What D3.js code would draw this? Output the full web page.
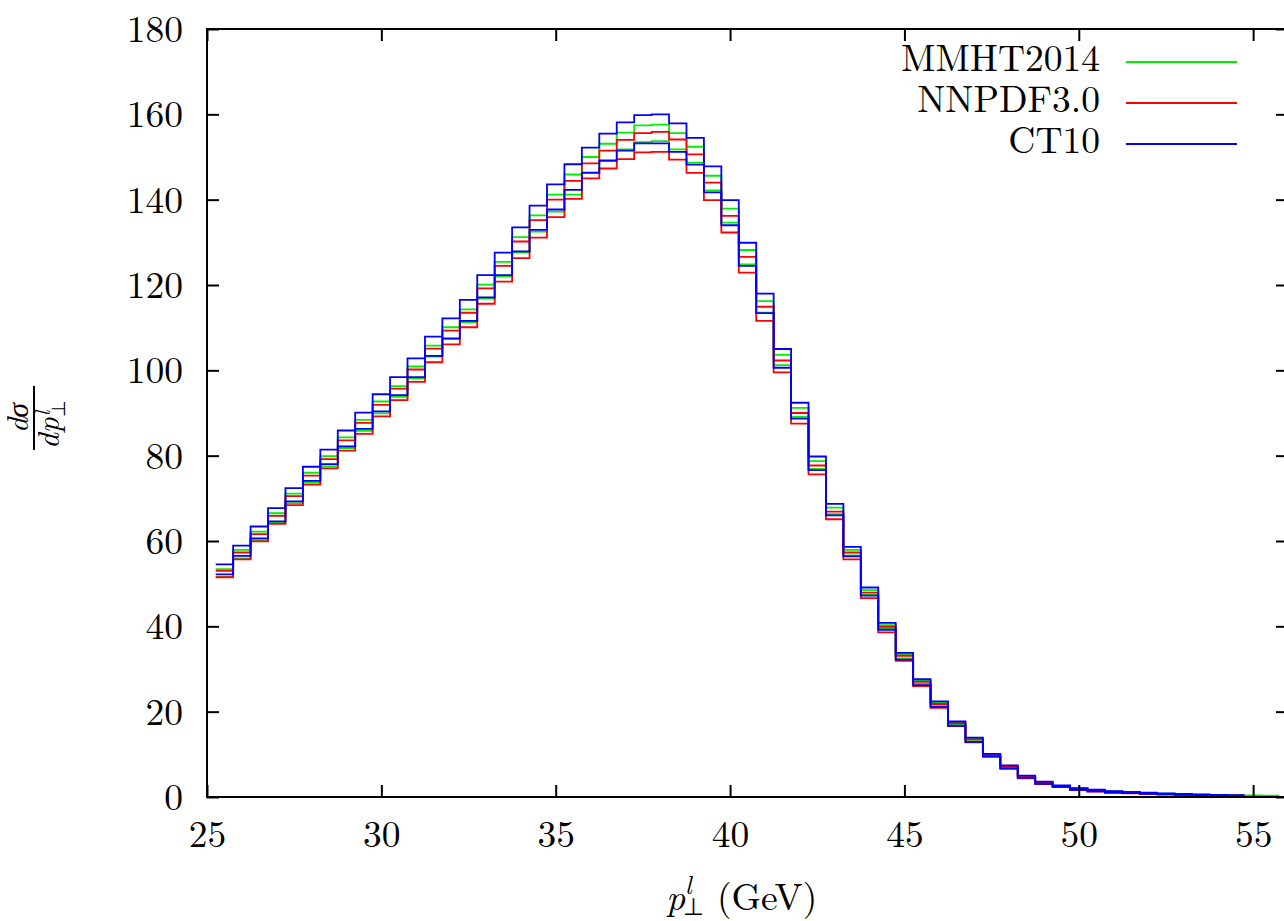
<!DOCTYPE html>
<html>
<head>
<meta charset="utf-8">
<script src="https://cdn.jsdelivr.net/npm/d3@7"></script>
<style>
  body { margin: 0; background: #fff; }
</style>
</head>
<body>
<div id="chart"></div>
<script>
// bin centres (GeV), bins are 0.5 GeV wide
const binCenters = [25.5, 26.0, 26.5, 27.0, 27.5, 28.0, 28.5, 29.0, 29.5, 30.0,
    30.5, 31.0, 31.5, 32.0, 32.5, 33.0, 33.5, 34.0, 34.5, 35.0,
    35.5, 36.0, 36.5, 37.0, 37.5, 38.0, 38.5, 39.0, 39.5, 40.0,
    40.5, 41.0, 41.5, 42.0, 42.5, 43.0, 43.5, 44.0, 44.5, 45.0,
    45.5, 46.0, 46.5, 47.0, 47.5, 48.0, 48.5, 49.0, 49.5, 50.0,
    50.5, 51.0, 51.5, 52.0, 52.5, 53.0, 53.5, 54.0, 54.5, 55.0, 55.5];

const mmhtUp = [53.4, 57.9, 62.2, 66.5, 71.1, 76.0, 79.9, 84.3, 88.4, 92.7,
    96.3, 100.9, 105.8, 110.1, 114.3, 120.1, 125.4, 131.2, 136.3, 141.2,
    145.9, 150.0, 153.1, 155.7, 157.4, 157.6, 155.6, 152.4, 145.6, 137.9,
    128.2, 116.2, 103.6, 91.2, 78.7, 67.8, 57.9, 48.5, 40.3, 33.4,
    27.3, 22.1, 17.5, 13.7, 9.95, 7.25, 4.9, 3.5, 2.6, 2.0,
    1.6, 1.3, 1.1, 0.92, 0.78, 0.65, 0.55, 0.46, 0.4, 0.35, 0.3];
const mmhtDown = [51.6, 55.9, 60.2, 64.3, 68.9, 73.7, 77.5, 81.8, 85.8, 89.9,
    93.8, 98.1, 103.2, 107.3, 111.3, 116.8, 122.0, 127.6, 132.5, 137.2,
    141.2, 146.4, 149.3, 151.8, 153.5, 153.7, 151.8, 148.7, 142.2, 134.6,
    124.8, 113.5, 101.2, 89.1, 76.9, 66.3, 56.6, 47.4, 39.5, 32.5,
    26.5, 21.3, 16.9, 13.1, 9.6, 6.85, 4.6, 3.2, 2.45, 1.8,
    1.4, 1.1, 0.92, 0.75, 0.64, 0.52, 0.44, 0.36, 0.29, 0.24, 0.2];

const nnpdfUp = [53.0, 57.3, 61.6, 65.9, 70.5, 75.3, 79.2, 83.6, 87.7, 91.9,
    95.7, 100.2, 105.1, 109.3, 113.5, 119.2, 124.5, 130.2, 135.2, 140.0,
    144.4, 148.5, 151.5, 154.0, 155.6, 155.9, 154.1, 150.6, 144.0, 136.2,
    126.6, 114.9, 102.3, 90.0, 77.7, 66.9, 57.3, 47.9, 39.9, 33.1,
    27.0, 21.8, 17.3, 13.5, 9.8, 7.1, 4.8, 3.4, 2.55, 1.95,
    1.55, 1.25, 1.05, 0.88, 0.74, 0.62, 0.52, 0.43, 0.37];
const nnpdfDown = [51.5, 55.7, 59.9, 64.0, 68.4, 73.2, 77.0, 81.2, 85.1, 89.2,
    93.0, 97.3, 101.9, 106.1, 110.1, 115.6, 120.8, 126.3, 131.1, 135.9,
    140.2, 145.0, 147.3, 149.5, 151.1, 151.2, 149.4, 146.3, 139.9, 132.3,
    122.9, 111.6, 99.5, 87.5, 75.6, 65.1, 55.7, 46.6, 38.6, 31.9,
    26.0, 20.9, 16.6, 12.8, 9.4, 6.6, 4.4, 3.0, 2.3, 1.6,
    1.25, 1.0, 0.85, 0.7, 0.6, 0.48, 0.4, 0.3, 0.23];

const ct10Up = [54.5, 58.9, 63.4, 67.7, 72.4, 77.4, 81.4, 85.9, 90.1, 94.4,
    98.4, 102.8, 107.9, 112.2, 116.5, 122.3, 127.6, 133.5, 138.6, 143.6,
    148.3, 152.2, 155.5, 158.1, 159.8, 160.0, 157.9, 154.5, 147.8, 139.9,
    129.9, 118.0, 105.0, 92.4, 79.8, 68.7, 58.6, 49.1, 40.8, 33.8,
    27.6, 22.4, 17.7, 13.9, 10.1, 7.4, 5.0, 3.6, 2.7, 2.1,
    1.7, 1.4, 1.2, 1.0, 0.85, 0.7, 0.6, 0.5, 0.45];
const ct10Down = [52.2, 56.5, 60.6, 64.6, 69.3, 74.1, 78.0, 82.2, 86.3, 90.4,
    94.2, 98.4, 103.4, 107.5, 111.6, 117.1, 122.3, 127.9, 132.9, 137.7,
    142.3, 146.3, 149.1, 151.5, 153.2, 153.2, 151.2, 148.2, 141.7, 134.0,
    124.5, 113.4, 100.6, 88.7, 76.6, 66.0, 56.4, 47.2, 39.2, 32.2,
    26.2, 21.1, 16.7, 12.9, 9.5, 6.7, 4.5, 3.1, 2.4, 1.7,
    1.3, 1.05, 0.9, 0.72, 0.62, 0.5, 0.42, 0.33, 0.26];

const seriesNames = ["MMHT2014", "NNPDF3.0", "CT10"];
const seriesColors = ["#00ee00", "#ff0000", "#0000ff"];
const xTicks = [25, 30, 35, 40, 45, 50, 55];
const yTicks = [0, 20, 40, 60, 80, 100, 120, 140, 160, 180];

const serif = "\"Latin Modern Roman\"";

const margin = { top: 29, right: -4, bottom: 124, left: 207 },
      width = 1284 - margin.left - margin.right,
      height = 921 - margin.top - margin.bottom;

const svg = d3.select("#chart")
    .append("svg")
    .attr("width", 1284)
    .attr("height", 921);

const g = svg.append("g")
    .attr("transform", `translate(${margin.left},${margin.top})`);

const x = d3.scaleLinear().domain([25, 56]).range([0, width]);
const y = d3.scaleLinear().domain([0, 180]).range([height, 0]);

g.append("clipPath").attr("id", "plotClip")
    .append("rect").attr("width", width).attr("height", height);

// histogram steps
const halfBin = (binCenters[1] - binCenters[0]) / 2;
const stepLine = d3.line().x(d => x(d[0])).y(d => y(d[1]));
function stepPoints(values) {
    return values.flatMap((v, i) => [[binCenters[i] - halfBin, v], [binCenters[i] + halfBin, v]]);
}

const bands = [[mmhtUp, mmhtDown], [nnpdfUp, nnpdfDown], [ct10Up, ct10Down]];
const plot = g.append("g").attr("clip-path", "url(#plotClip)");
bands.forEach((pair, k) => {
    pair.forEach(vals => {
        plot.append("path")
            .datum(stepPoints(vals))
            .attr("d", stepLine)
            .style("fill", "none")
            .style("stroke", seriesColors[k])
            .style("stroke-width", 1.8);
    });
});

// axes with inward ticks on all four sides
const tickLen = 12;
const fs = 37.5;
const xAxis = g.append("g").attr("transform", `translate(0,${height})`)
    .call(d3.axisBottom(x).tickValues(xTicks).tickSizeInner(-tickLen).tickSizeOuter(0).tickFormat(d3.format("d")));
const xTop = g.append("g")
    .call(d3.axisTop(x).tickValues(xTicks).tickSizeInner(-tickLen).tickSizeOuter(0).tickFormat(""));
const yAxis = g.append("g")
    .call(d3.axisLeft(y).tickValues(yTicks).tickSizeInner(-tickLen).tickSizeOuter(0));
const yRight = g.append("g").attr("transform", `translate(${width},0)`)
    .call(d3.axisRight(y).tickValues(yTicks).tickSizeInner(-tickLen).tickSizeOuter(0).tickFormat(""));

[xAxis, xTop, yAxis, yRight].forEach(a => {
    a.attr("font-family", null).attr("font-size", null);
    a.select(".domain").remove();
    a.selectAll(".tick line").attr("stroke", "#000").attr("stroke-width", 2);
});
xAxis.selectAll(".tick text")
    .attr("y", 50).attr("dy", null)
    .style("font-family", serif)
    .style("font-size", fs + "px");
yAxis.selectAll(".tick text")
    .attr("x", -24).attr("dy", "0.33em")
    .style("font-family", serif)
    .style("font-size", fs + "px");

g.append("rect")
    .attr("width", width).attr("height", height)
    .style("fill", "none").style("stroke", "#000").style("stroke-width", 2);

function addText(parent, tx, ty, str, size, italic) {
    return parent.append("text").attr("x", tx).attr("y", ty)
        .style("font-family", serif)
        .style("font-size", size + "px")
        .style("font-style", italic ? "italic" : "normal")
        .text(str);
}

// x axis title, one text with stacked super/subscript
const xTitle = svg.append("text").attr("x", 666).attr("y", 910)
    .style("font-family", serif).style("font-size", fs + "px");
xTitle.append("tspan").style("font-style", "italic").text("p");
xTitle.append("tspan").attr("x", 685).attr("y", 894)
    .style("font-style", "italic").style("font-size", "26px").text("l");
xTitle.append("tspan").attr("x", 683).attr("y", 915)
    .style("font-size", "24px").text("⊥");
xTitle.append("tspan").attr("x", 717).attr("y", 910).text("(GeV)");

// y axis title: fraction dσ / dp
const yl = svg.append("g").attr("transform", "translate(34,418) rotate(-90)");
addText(yl, 0, -6, "dσ", 30, true).attr("text-anchor", "middle");
yl.append("line").attr("x1", -32).attr("x2", 32).attr("y1", 0).attr("y2", 0)
    .style("stroke", "#000").style("stroke-width", 2);
const den = yl.append("text").attr("x", -31).attr("y", 25)
    .style("font-family", serif).style("font-size", "31px");
den.append("tspan").style("font-style", "italic").text("dp");
den.append("tspan").attr("x", 2).attr("y", 16)
    .style("font-style", "italic").style("font-size", "21px").text("l");
den.append("tspan").attr("x", 1).attr("y", 31)
    .style("font-size", "19px").text("⊥");

// legend
const legend = svg.append("g");
seriesNames.forEach((name, i) => {
    const by = 71 + i * 41;
    addText(legend, 1100, by, name, fs, false).attr("text-anchor", "end");
    legend.append("line").attr("x1", 1126).attr("x2", 1237)
        .attr("y1", by - 9).attr("y2", by - 9)
        .style("stroke", seriesColors[i]).style("stroke-width", 2);
});
</script>
</body>
</html>
